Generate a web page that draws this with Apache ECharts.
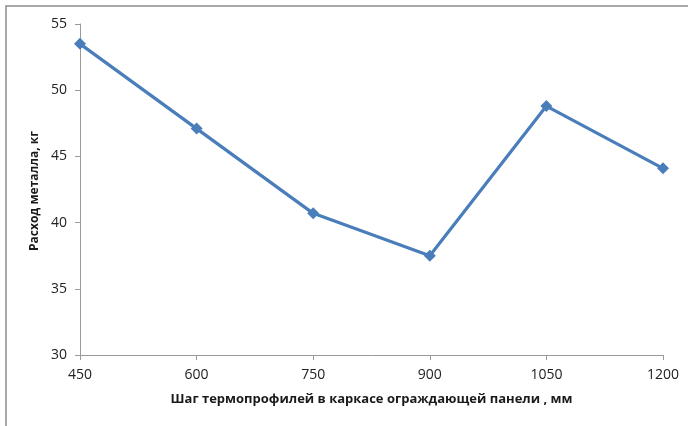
<!DOCTYPE html>
<html>
<head>
<meta charset="utf-8">
<script src="https://cdn.jsdelivr.net/npm/echarts@6/dist/echarts.min.js"></script>
<style>
  html, body { margin: 0; padding: 0; background: #fff; }
  #chart { width: 688px; height: 426px; }
</style>
</head>
<body>
<div id="chart"></div>
<script>
// Spacing of thermal profiles (mm) vs metal consumption (kg)
const steps = [450, 600, 750, 900, 1050, 1200];
const metal = [53.5, 47.1, 40.7, 37.5, 48.8, 44.1];
const xTitle = 'Шаг термопрофилей в каркасе ограждающей панели , мм';
const yTitle = 'Расход металла, кг';

const font = '"Open Sans", "Liberation Sans", sans-serif';
const chart = echarts.init(document.getElementById('chart'), null, { renderer: 'canvas' });

chart.setOption({
  animation: false,
  backgroundColor: '#ffffff',
  grid: { left: 80, right: 25, top: 24, bottom: 71 },
  graphic: [{
    type: 'rect',
    shape: { x: 6, y: 6, width: 720, height: 460 },
    style: { fill: 'none', stroke: '#8c8c8c', lineWidth: 1.5 },
    silent: true
  }, {
    type: 'text',
    x: 35,
    y: 191,
    rotation: Math.PI / 2,
    style: {
      x: 0, y: 0,
      text: yTitle,
      align: 'center',
      verticalAlign: 'middle',
      font: 'bold 12px ' + font,
      fill: '#1a1a1a'
    }
  }],
  xAxis: {
    type: 'value',
    min: 450, max: 1200, interval: 150,
    name: xTitle,
    nameLocation: 'middle',
    nameGap: 38,
    nameTextStyle: { fontFamily: font, fontSize: 13, fontWeight: 'bold', color: '#1a1a1a' },
    axisLine: { show: true, lineStyle: { color: '#9a9a9a', width: 1 } },
    axisTick: { show: true, length: 5, inside: false, lineStyle: { color: '#9a9a9a' } },
    axisLabel: { fontFamily: font, fontSize: 14, color: '#222', margin: 13, formatter: v => String(v) },
    splitLine: { show: false }
  },
  yAxis: {
    type: 'value',
    min: 30, max: 55, interval: 5,
    axisLine: { show: true, lineStyle: { color: '#9a9a9a', width: 1 } },
    axisTick: { show: true, length: 5, lineStyle: { color: '#9a9a9a' } },
    axisLabel: { fontFamily: font, fontSize: 14, color: '#222', margin: 13 },
    splitLine: { show: false }
  },
  series: [{
    type: 'line',
    data: steps.map((s, i) => [s, metal[i]]),
    symbol: 'diamond',
    symbolSize: 12,
    lineStyle: { color: '#4a7ebb', width: 3.2 },
    itemStyle: { color: '#4a7ebb' }
  }]
});
</script>
</body>
</html>
